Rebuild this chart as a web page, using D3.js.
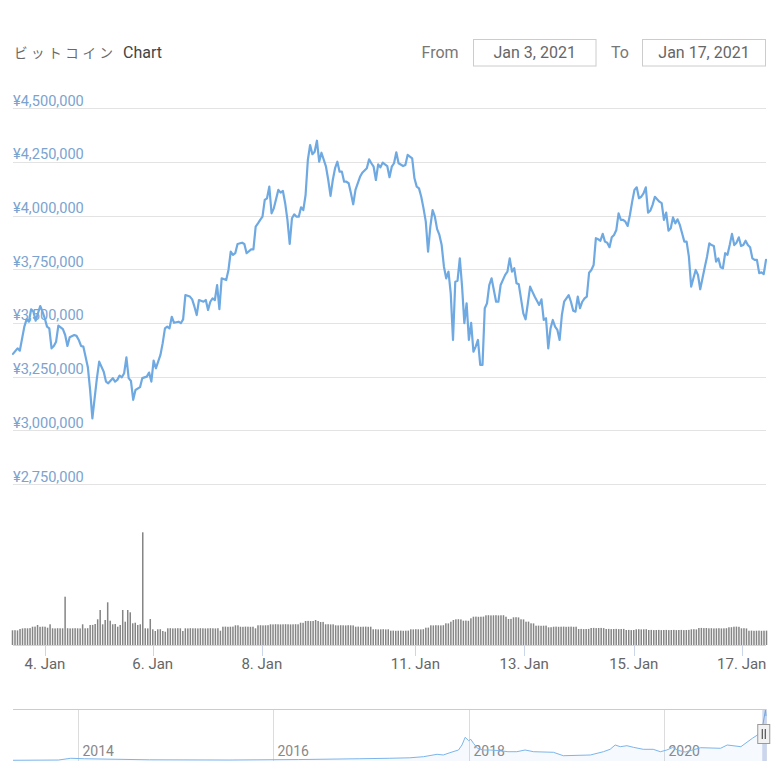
<!DOCTYPE html>
<html><head><meta charset="utf-8">
<script src="https://cdn.jsdelivr.net/npm/d3@7/dist/d3.min.js"></script>
<style>body{margin:0;background:#fff}svg{display:block;font-family:Roboto,"Noto Sans",sans-serif}</style>
</head><body><svg id="c" width="780" height="780"></svg>
<script>
// ---------- data ----------
const titleKana = "ビットコイン";
const titleText = "Chart";
const fromLabel = "From", toLabel = "To";
const fromDate = "Jan 3, 2021", toDate = "Jan 17, 2021";

const priceTicks = [2750000, 3000000, 3250000, 3500000, 3750000, 4000000, 4250000, 4500000];

// x positions expressed as hourly point index (ordinal axis)
const dayTickPos = [14.1, 61.6, 109.7, 177.4, 225.4, 273.7, 321.3];
const dayTickLabels = ["4. Jan", "6. Jan", "8. Jan", "11. Jan", "13. Jan", "15. Jan", "17. Jan"];

// [point index, price in JPY]
const price = [
[0,3356000],[2,3382000],[3,3371000],[5,3483000],[6,3517000],[7,3506000],[8,3564000],[9,3553000],[10,3511000],[12,3579000],
[13,3553000],[14,3522000],[15,3483000],[16,3475000],[17,3382000],[18,3393000],[19,3413000],[20,3488000],[22,3471000],[23,3444000],
[24,3393000],[25,3434000],[27,3444000],[28,3440000],[29,3421000],[30,3393000],[31,3390000],[32,3343000],[33,3294000],[34,3188000],
[35,3056000],[36,3150000],[37,3243000],[38,3320000],[40,3273000],[41,3227000],[42,3219000],[44,3243000],[45,3227000],[46,3235000],
[47,3255000],[48,3247000],[49,3266000],[50,3340000],[51,3243000],[52,3230000],[53,3142000],[54,3188000],[56,3201000],[57,3243000],
[59,3250000],[60,3269000],[61,3227000],[62,3325000],[63,3289000],[65,3351000],[66,3406000],[67,3475000],[68,3483000],[69,3475000],
[70,3529000],[71,3501000],[73,3506000],[74,3499000],[75,3517000],[76,3630000],[78,3623000],[79,3610000],[80,3576000],[81,3537000],
[82,3607000],[84,3599000],[85,3607000],[86,3561000],[87,3599000],[88,3615000],[89,3607000],[90,3677000],[91,3564000],[92,3708000],
[94,3700000],[95,3747000],[96,3832000],[97,3817000],[98,3825000],[99,3868000],[101,3874000],[102,3868000],[103,3825000],[105,3843000],
[106,3843000],[107,3949000],[108,3964000],[109,3980000],[110,3995000],[111,4073000],[112,4081000],[113,4135000],[114,4011000],[115,4034000],
[117,4120000],[118,4107000],[119,4115000],[120,4058000],[121,3980000],[122,3868000],[123,3988000],[124,4006000],[125,3995000],[126,3995000],
[127,4039000],[128,4026000],[129,4096000],[130,4259000],[131,4329000],[132,4286000],[133,4298000],[134,4349000],[135,4251000],[136,4293000],
[138,4228000],[139,4166000],[140,4092000],[141,4166000],[142,4221000],[143,4251000],[144,4205000],[145,4205000],[146,4158000],[147,4158000],
[148,4151000],[149,4104000],[150,4053000],[151,4120000],[153,4181000],[154,4200000],[156,4221000],[157,4262000],[158,4244000],[159,4228000],
[160,4166000],[161,4239000],[162,4225000],[163,4247000],[165,4231000],[166,4179000],[167,4228000],[168,4244000],[169,4295000],[170,4244000],
[172,4231000],[173,4236000],[174,4283000],[176,4267000],[177,4174000],[178,4135000],[179,4127000],[180,4088000],[181,4034000],[182,3972000],
[183,3832000],[184,3949000],[185,4026000],[186,3995000],[187,3937000],[188,3910000],[189,3863000],[190,3762000],[191,3708000],[192,3739000],
[193,3638000],[194,3421000],[195,3692000],[196,3697000],[197,3801000],[198,3669000],[199,3499000],[200,3592000],[201,3421000],[202,3501000],
[203,3366000],[204,3390000],[205,3421000],[206,3305000],[207,3305000],[208,3569000],[209,3592000],[210,3677000],[211,3708000],[212,3654000],
[213,3599000],[214,3599000],[215,3677000],[217,3724000],[218,3739000],[219,3801000],[220,3739000],[221,3755000],[222,3685000],[223,3680000],
[225,3545000],[226,3517000],[227,3592000],[228,3669000],[229,3646000],[230,3623000],[232,3584000],[233,3610000],[234,3514000],[235,3522000],
[236,3382000],[237,3475000],[238,3514000],[239,3483000],[240,3468000],[241,3421000],[242,3537000],[243,3599000],[245,3630000],[246,3599000],
[247,3557000],[248,3553000],[249,3623000],[250,3569000],[251,3599000],[252,3615000],[253,3623000],[254,3734000],[255,3747000],[256,3770000],
[257,3895000],[258,3890000],[259,3883000],[260,3915000],[261,3879000],[262,3874000],[263,3853000],[264,3899000],[265,3910000],[266,3933000],
[267,4011000],[268,3980000],[269,3980000],[270,3972000],[271,3952000],[272,4003000],[273,4065000],[274,4120000],[275,4132000],[276,4081000],
[277,4088000],[278,4104000],[279,4132000],[280,4014000],[281,4023000],[282,4050000],[283,4088000],[284,4076000],[285,4065000],[286,4058000],
[287,3980000],[288,4014000],[289,3930000],[290,3941000],[291,3992000],[292,3964000],[293,3983000],[294,3957000],[295,3918000],[296,3879000],
[297,3879000],[298,3809000],[299,3669000],[300,3708000],[301,3747000],[302,3724000],[303,3657000],[304,3708000],[305,3760000],[306,3809000],
[307,3871000],[308,3863000],[309,3859000],[310,3786000],[311,3801000],[312,3760000],[313,3755000],[314,3825000],[315,3817000],[316,3863000],
[317,3915000],[318,3863000],[319,3874000],[320,3899000],[321,3859000],[322,3863000],[323,3883000],[324,3863000],[325,3853000],[326,3801000],
[327,3794000],[328,3794000],[329,3732000],[330,3736000],[331,3728000],[332,3794000]
];
const priceLastIndex = 332;

// volume bars (one per bar, left to right)
const volume = [
147,148,146,160,166,168,167,169,183,184,200,182,184,183,173,207,167,166,168,167,
167,483,168,166,167,168,167,166,207,167,168,200,201,210,257,350,207,250,427,243,
207,210,183,200,350,233,350,327,217,223,200,207,1127,167,166,260,157,140,157,158,
140,133,167,168,166,167,168,167,140,167,166,168,167,167,166,168,167,166,167,168,
167,166,168,143,183,184,182,183,184,197,197,183,182,184,183,182,183,167,197,198,
196,197,198,207,206,208,207,206,207,208,207,206,207,208,207,223,222,240,241,239,
240,250,240,230,231,207,208,206,207,197,196,198,197,196,198,197,196,183,184,182,
183,184,182,183,157,158,156,157,158,156,157,143,144,142,143,144,142,143,144,157,
156,158,157,156,158,173,174,197,196,198,197,196,198,217,216,233,250,257,258,256,
243,244,242,267,283,284,282,283,284,297,298,296,297,298,296,297,298,283,260,261,
277,278,276,257,256,233,234,217,216,193,194,192,193,194,177,178,183,184,182,183,
184,182,183,184,182,183,160,161,159,160,161,170,171,169,170,171,169,160,161,159,
160,161,159,160,161,150,151,149,150,157,158,156,157,158,150,151,149,150,151,149,
150,151,149,150,151,149,150,151,149,150,151,157,158,156,170,171,169,170,167,168,
166,167,168,166,167,168,177,178,183,184,182,167,168,166,143,144,142,143,144,142,
143,144
];

// navigator (long history)
const navDates = ["2013-05-03","2013-10-20","2013-12-05","2014-01-25","2014-09-25","2015-07-20","2016-04-05","2016-11-20","2017-03-12","2017-05-26",
"2017-07-16","2017-09-05","2017-09-28","2017-10-23","2017-11-24","2017-12-07","2017-12-19","2018-01-01","2018-01-09","2018-01-19",
"2018-02-03","2018-02-25","2018-03-22","2018-04-28","2018-05-28","2018-06-30","2018-07-31","2018-09-01","2018-11-14","2018-12-21",
"2019-04-01","2019-05-20","2019-06-14","2019-07-03","2019-07-22","2019-08-16","2019-09-09","2019-10-16","2019-11-22","2019-12-19",
"2020-01-12","2020-02-03","2020-02-25","2020-03-21","2020-05-18","2020-07-31","2020-08-25","2020-10-15","2020-11-27","2020-12-16",
"2021-01-04","2021-01-15","2021-01-17"];
const navValues = [20000,40000,190000,150000,60000,40000,80000,150000,190000,230000,
324000,529000,470000,665000,895000,1322000,1979000,1690000,1808000,1467000,
1040000,895000,895000,836000,750000,750000,895000,750000,700000,409000,
469000,750000,955000,1322000,1177000,1262000,1126000,955000,955000,750000,
895000,1109000,853000,725000,1092000,1041000,1322000,1177000,1894000,2175000,
2883000,4307000,3794000];
const navYearTicks = ["2014-01-01","2016-01-01","2018-01-01","2020-01-01"];
const navYearLabels = ["2014","2016","2018","2020"];
const navSelStart = "2021-01-03", navSelEnd = "2021-01-17";

// ---------- drawing ----------
const svg = d3.select("#c");
const L = 13, R = 766;
const parse = d3.timeParse("%Y-%m-%d");

// header
svg.append("text").attr("x", 14).attr("y", 58)
  .attr("font-family", "'Noto Sans CJK JP'").attr("font-size", 13.5).attr("font-weight", 400)
  .attr("letter-spacing", 3.6).attr("fill", "#6a6a6a").text(titleKana);
svg.append("text").attr("x", 123).attr("y", 58).attr("font-size", 16).attr("fill", "#444").text(titleText);

svg.append("text").attr("x", 421.5).attr("y", 58).attr("font-size", 16).attr("fill", "#777").text(fromLabel);
svg.append("text").attr("x", 611).attr("y", 58).attr("font-size", 16).attr("fill", "#777").text(toLabel);
const boxes = [[473.5, 596, fromDate], [642.5, 765.5, toDate]];
boxes.forEach(b => {
  svg.append("rect").attr("x", b[0]).attr("y", 39.5).attr("width", b[1] - b[0]).attr("height", 26.5)
    .attr("fill", "#fff").attr("stroke", "#cccccc").attr("stroke-width", 1);
  svg.append("text").attr("x", (b[0] + b[1]) / 2).attr("y", 58).attr("text-anchor", "middle")
    .attr("font-size", 16).attr("fill", "#666").text(b[2]);
});

// price pane
const x = d3.scaleLinear().domain([0, priceLastIndex]).range([L, R]);
const y = d3.scaleLinear().domain([2750000, 4500000]).range([484, 108.3]);
const fmt = v => "¥" + d3.format(",")(v);

const grid = svg.append("g");
priceTicks.forEach(t => {
  grid.append("line").attr("x1", L).attr("x2", R).attr("y1", Math.round(y(t)) + 0.5).attr("y2", Math.round(y(t)) + 0.5)
    .attr("stroke", "#e3e3e3").attr("stroke-width", 1);
  grid.append("text").attr("x", L).attr("y", y(t) - 2.5).attr("font-size", 14.6).attr("fill", "#7ba3cf").text(fmt(t));
});

svg.append("path").datum(price)
  .attr("d", d3.line().x(d => x(d[0])).y(d => y(d[1])))
  .attr("fill", "none").attr("stroke", "#6fa9e2").attr("stroke-width", 2.2)
  .attr("stroke-linejoin", "round").attr("stroke-linecap", "round");

// volume pane
const xb = d3.scaleBand().domain(d3.range(volume.length)).range([L - 1.25, R + 1.25]).paddingInner(0.4);
const yv = d3.scaleLinear().domain([0, d3.max(volume)]).range([645, 532.3]);
svg.append("g").selectAll("rect").data(volume).join("rect")
  .attr("x", (d, i) => xb(i)).attr("width", xb.bandwidth())
  .attr("y", d => yv(d)).attr("height", d => yv(0) - yv(d))
  .attr("fill", "#858585");

// x axis
svg.append("line").attr("x1", L).attr("x2", R).attr("y1", 645.5).attr("y2", 645.5).attr("stroke", "#ccd6eb");
dayTickPos.forEach((p, i) => {
  const xx = Math.round(x(p)) + 0.5;
  svg.append("line").attr("x1", xx).attr("x2", xx).attr("y1", 645).attr("y2", 656).attr("stroke", "#ccd6eb");
  svg.append("text").attr("x", x(p)).attr("y", 669).attr("text-anchor", "middle")
    .attr("font-size", 15).attr("fill", "#666").text(dayTickLabels[i]);
});

// navigator
const nx = d3.scaleTime().domain([parse("2013-05-03"), parse("2021-01-17")]).range([L, R]);
const ny = d3.scaleLinear().domain([0, 4350000]).range([760.5, 709.5]);
const nav = navDates.map((d, i) => [parse(d), navValues[i]]);
navYearTicks.forEach((t, i) => {
  const xx = Math.round(nx(parse(t))) + 0.5;
  svg.append("line").attr("x1", xx).attr("x2", xx).attr("y1", 709).attr("y2", 761).attr("stroke", "#dcdcdc");
  svg.append("text").attr("x", xx + 4).attr("y", 755.5).attr("font-size", 14).attr("fill", "#888").text(navYearLabels[i]);
});
svg.append("path").datum(nav)
  .attr("d", d3.area().x(d => nx(d[0])).y0(761).y1(d => ny(d[1])))
  .attr("fill", "rgba(124,181,236,0.07)");
svg.append("path").datum(nav)
  .attr("d", d3.line().x(d => nx(d[0])).y(d => ny(d[1])))
  .attr("fill", "none").attr("stroke", "#7cb5ec").attr("stroke-width", 1);
// mask for selected range
const s0 = nx(parse(navSelStart)), s1 = nx(parse(navSelEnd));
svg.append("rect").attr("x", s0).attr("y", 709).attr("width", s1 - s0 + 1).attr("height", 52)
  .attr("fill", "rgba(102,133,194,0.3)");
svg.append("line").attr("x1", L).attr("x2", R).attr("y1", 709.5).attr("y2", 709.5).attr("stroke", "#cccccc");
// handle
const hx = s0 + 1.5;
svg.append("rect").attr("x", hx - 6).attr("y", 724.5).attr("width", 12).attr("height", 19)
  .attr("fill", "#f2f2f2").attr("stroke", "#999").attr("stroke-width", 1);
[-1.5, 1.5].forEach(o => svg.append("line").attr("x1", hx + o).attr("x2", hx + o).attr("y1", 729).attr("y2", 739).attr("stroke", "#333"));
</script></body></html>
